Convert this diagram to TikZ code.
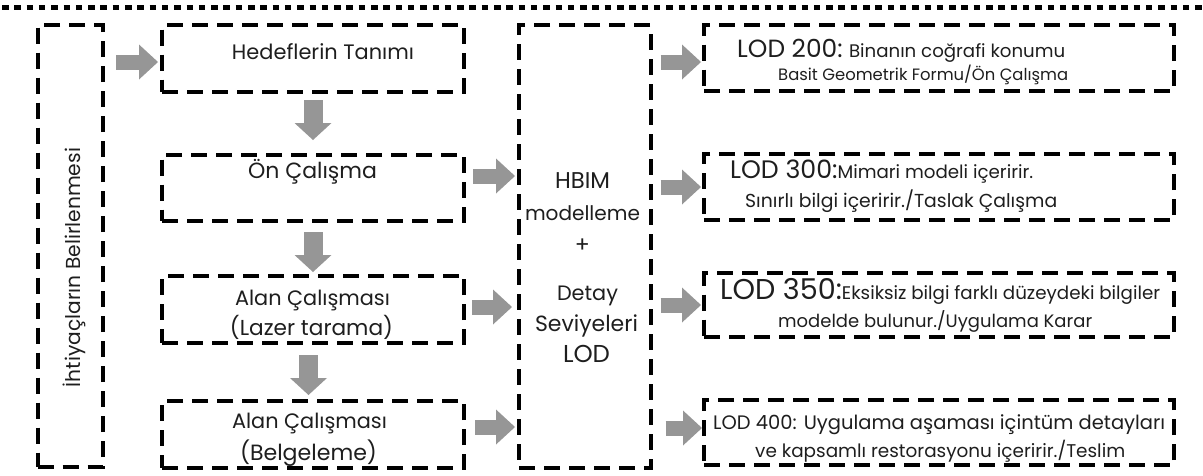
\documentclass[tikz,border=0pt]{standalone}
\usepackage{fontspec}
\usepackage{graphicx}
\setmainfont{Poppins}
\usetikzlibrary{arrows.meta,calc}
\definecolor{arrgray}{RGB}{150,150,150}
\definecolor{txt}{RGB}{30,30,30}
\newcommand{\fsz}[1]{\fontsize{#1pt}{#1pt}\selectfont}
\newcommand{\fitw}[2]{\resizebox{#1pt}{!}{#2}}
\tikzset{
  dbox/.style={draw=black, line width=4pt, dash pattern=on 16pt off 9pt, inner sep=0pt, rectangle},
  harr/.style={draw=arrgray, line width=15pt, -{Triangle[length=19pt,width=35pt,line width=0pt]}},
  varr/.style={draw=arrgray, line width=19pt, -{Triangle[length=17pt,width=37pt,line width=0pt]}},
  lbl/.style={inner sep=0pt, anchor=base, text=txt},
  lblw/.style={inner sep=0pt, anchor=base west, text=txt},
}
\begin{document}
\begin{tikzpicture}[x=1pt,y=-1pt]
\useasboundingbox (0,0) rectangle (1203,475);
% top dotted rule
\coordinate (rl) at (2,7);
\coordinate (rr) at (1203,7);
\draw[line width=5pt, dash pattern=on 6.5pt off 5.8pt] (rl) -- (rr);
% boxes
\node[dbox, minimum width=65.5pt, minimum height=441.5pt] (left) at (70.25,245.75) {};
\node[dbox, minimum width=302pt, minimum height=66.5pt] (hed) at (313,58.25) {};
\node[dbox, minimum width=302pt, minimum height=66pt] (on) at (313,187.5) {};
\node[dbox, minimum width=302pt, minimum height=67.5pt] (laz) at (313,309.25) {};
\node[dbox, minimum width=302pt, minimum height=67pt] (bel) at (313,434.5) {};
\node[dbox, minimum width=131.5pt, minimum height=443pt] (mid) at (584.75,246.5) {};
\node[dbox, minimum width=470pt, minimum height=65.5pt] (r1) at (939,57.75) {};
\node[dbox, minimum width=470pt, minimum height=66pt] (r2) at (939,187) {};
\node[dbox, minimum width=470pt, minimum height=63.5pt] (r3) at (939,304.75) {};
\node[dbox, minimum width=470pt, minimum height=65pt] (r4) at (939,432.5) {};
% texts
\node[lbl, rotate=90] (tleft) at (81,267.5) {\fitw{239}{\fsz{21}İhtiyaçların Belirlenmesi}};
\node[lbl] (thed) at (323,59) {\fitw{182}{\fsz{22}Hedeflerin Tanımı}};
\node[lbl] (ton) at (312.5,178) {\fitw{129}{\fsz{22}Ön Çalışma}};
\node[lbl] (tlaz1) at (312.5,305) {\fitw{155}{\fsz{22}Alan Çalışması}};
\node[lbl] (tlaz2) at (311.5,335) {\fitw{163}{\fsz{22}(Lazer tarama)}};
\node[lbl] (tbel1) at (309.5,428) {\fitw{155}{\fsz{22}Alan Çalışması}};
\node[lbl] (tbel2) at (308.5,460) {\fitw{137}{\fsz{22}(Belgeleme)}};
\node[lbl] (m1) at (582.5,188) {\fitw{55}{\fsz{21}HBIM}};
\node[lbl] (m2) at (582.5,220) {\fitw{115}{\fsz{21}modelleme}};
\node[lbl] (m3) at (582.5,252) {\fsz{22}+};
\node[lbl] (m4) at (587.5,300) {\fitw{61}{\fsz{21}Detay}};
\node[lbl] (m5) at (586.5,331) {\fitw{103}{\fsz{21}Seviyeleri}};
\node[lbl] (m6) at (586.5,362) {\fitw{47}{\fsz{21}LOD}};
\node[lblw] (t1a) at (737,57) {\fitw{328}{\fsz{26}LOD 200:\fsz{19} Binanın coğrafi konumu}};
\node[lblw] (t1b) at (778,80) {\fitw{290}{\fsz{20}Basit Geometrik Formu/Ön Çalışma}};
\node[lblw] (t2a) at (730,178) {\fitw{303}{\fsz{27}LOD 300:\fsz{19.5}Mimari modeli içeririr.}};
\node[lblw] (t2b) at (745,207) {\fitw{312}{\fsz{20.5}Sınırlı bilgi içeririr./Taslak Çalışma}};
\node[lblw] (t3a) at (720,299) {\fitw{440}{\fsz{29}LOD 350:\fsz{18.5}Eksiksiz bilgi farklı düzeydeki bilgiler}};
\node[lblw] (t3b) at (778,327) {\fitw{314}{\fsz{20.5}modelde bulunur./Uygulama Karar}};
\node[lblw] (t4a) at (713,429) {\fitw{452}{\fsz{22}LOD 400: Uygulama aşaması içintüm detayları}};
\node[lblw] (t4b) at (755,457) {\fitw{370}{\fsz{20.5}ve kapsamlı restorasyonu içeririr./Teslim}};
% arrows
\draw[harr] ($(left.east |- 0,62)+(11,0)$) -- ($(hed.west |- 0,62)+(-2,0)$);
\draw[varr] ($(hed.south)+(0,6.5)$) -- ($(on.north)+(0,-12.5)$);
\draw[varr] ($(on.south)+(0,9.5)$) -- ($(laz.north)+(0,-1.5)$);
\draw[varr] ($(laz.south)+(-4.5,10)$) -- ($(bel.north)+(-4.5,-4)$);
\draw[harr] ($(on.east |- 0,176)+(7,0)$) -- ($(mid.west |- 0,176)+(-2,0)$);
\draw[harr] ($(laz.east |- 0,307)+(6,0)$) -- ($(mid.west |- 0,307)+(-5,0)$);
\draw[harr] ($(bel.east |- 0,427)+(9,0)$) -- ($(mid.west |- 0,427)+(-2,0)$);
\draw[harr] ($(mid.east |- 0,62)+(8,0)$) -- ($(r1.west |- 0,62)+(-1,0)$);
\draw[harr] ($(mid.east |- 0,187)+(8,0)$) -- ($(r2.west |- 0,187)+(-1,0)$);
\draw[harr] ($(mid.east |- 0,305)+(8,0)$) -- ($(r3.west |- 0,305)+(-1,0)$);
\draw[harr] ($(mid.east |- 0,428)+(13,0)$) -- ($(r4.west |- 0,428)+(0,0)$);
\end{tikzpicture}
\end{document}
